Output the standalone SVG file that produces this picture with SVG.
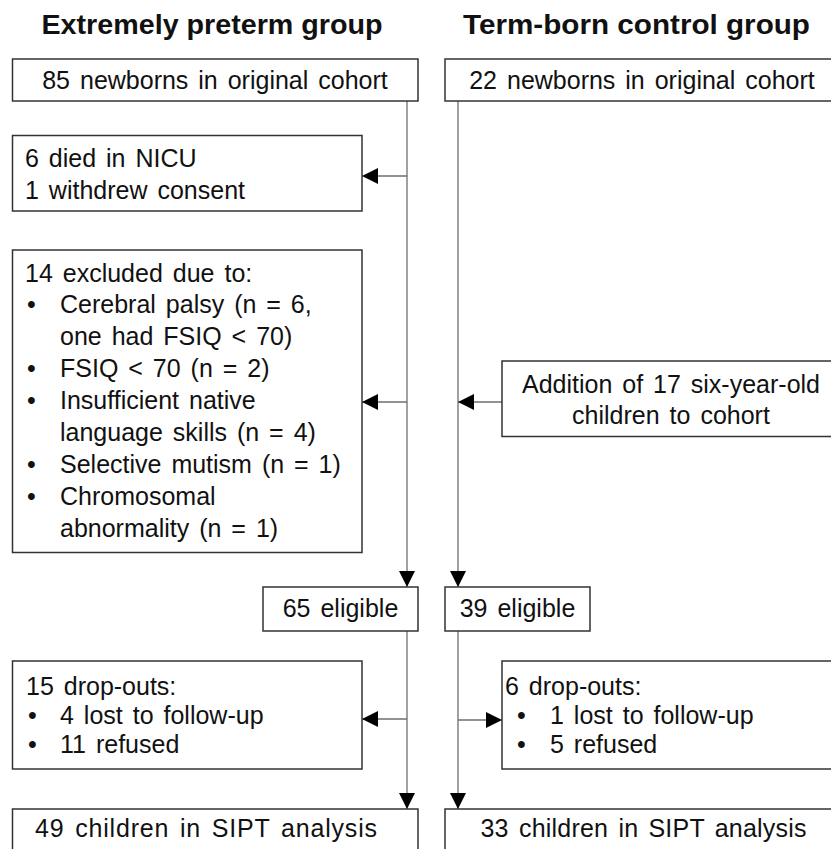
<svg xmlns="http://www.w3.org/2000/svg" width="831" height="849" viewBox="0 0 831 849">
  <style>
    .bg { fill: #ffffff; }
    .box { fill: #ffffff; stroke: #333333; stroke-width: 1.5; }
    .t { font-family: "Liberation Sans", Arial, sans-serif; font-size: 25px; fill: #111111; word-spacing: 3px; }
    .c { text-anchor: middle; }
    .title { font-family: "Liberation Sans", Arial, sans-serif; font-size: 28px; font-weight: bold; fill: #111111; text-anchor: middle; }
    .conn { fill: none; stroke: #6e6e6e; stroke-width: 1.3; }
  </style>
  <defs>
    <marker id="arrow" viewBox="0 0 16 16" refX="16" refY="8" markerWidth="16" markerHeight="16" markerUnits="userSpaceOnUse" orient="auto">
      <path d="M0,0 L16,8 L0,16 z" fill="#000000"/>
    </marker>
  </defs>
  <rect class="bg" x="0" y="0" width="831" height="849"/>

  <g id="titles">
    <text class="title" x="212" y="34" textLength="341" lengthAdjust="spacingAndGlyphs">Extremely preterm group</text>
    <text class="title" x="636.5" y="34" textLength="347" lengthAdjust="spacingAndGlyphs">Term-born control group</text>
  </g>

  <g id="connectors">
    <path class="conn" d="M407,101 V587" marker-end="url(#arrow)"/>
    <path class="conn" d="M407,631 V809" marker-end="url(#arrow)"/>
    <path class="conn" d="M458,101 V587" marker-end="url(#arrow)"/>
    <path class="conn" d="M458,631 V809" marker-end="url(#arrow)"/>
    <path class="conn" d="M407,176 H362" marker-end="url(#arrow)"/>
    <path class="conn" d="M407,402 H362" marker-end="url(#arrow)"/>
    <path class="conn" d="M502,402 H458" marker-end="url(#arrow)"/>
    <path class="conn" d="M407,719 H362" marker-end="url(#arrow)"/>
    <path class="conn" d="M458,720 H502" marker-end="url(#arrow)"/>
  </g>

  <g id="ep-cohort">
    <rect class="box" x="12.5" y="59" width="405.5" height="42"/>
    <text class="t c" x="215" y="89">85 newborns in original cohort</text>
  </g>
  <g id="tb-cohort">
    <rect class="box" x="445" y="59" width="397" height="42"/>
    <text class="t c" x="642" y="89">22 newborns in original cohort</text>
  </g>

  <g id="ep-died">
    <rect class="box" x="12.5" y="135.5" width="349.5" height="75.5"/>
    <text class="t" x="25" y="167">6 died in NICU</text>
    <text class="t" x="25" y="199">1 withdrew consent</text>
  </g>

  <g id="ep-excluded">
    <rect class="box" x="12.5" y="250" width="349.5" height="302.5"/>
    <text class="t" x="25" y="282">14 excluded due to:</text>
    <text class="t" x="27" y="313">•</text>
    <text class="t" x="60" y="313">Cerebral palsy (n = 6,</text>
    <text class="t" x="60" y="345">one had FSIQ &lt; 70)</text>
    <text class="t" x="27" y="377">•</text>
    <text class="t" x="60" y="377">FSIQ &lt; 70 (n = 2)</text>
    <text class="t" x="27" y="409">•</text>
    <text class="t" x="60" y="409">Insufficient native</text>
    <text class="t" x="60" y="441">language skills (n = 4)</text>
    <text class="t" x="27" y="473">•</text>
    <text class="t" x="60" y="473">Selective mutism (n = 1)</text>
    <text class="t" x="27" y="505">•</text>
    <text class="t" x="60" y="505">Chromosomal</text>
    <text class="t" x="60" y="537">abnormality (n = 1)</text>
  </g>

  <g id="tb-addition">
    <rect class="box" x="502" y="361" width="340" height="75.5"/>
    <text class="t c" x="671" y="393">Addition of 17 six-year-old</text>
    <text class="t c" x="671" y="424">children to cohort</text>
  </g>

  <g id="ep-eligible">
    <rect class="box" x="263" y="587" width="155" height="44"/>
    <text class="t c" x="340.5" y="617">65 eligible</text>
  </g>
  <g id="tb-eligible">
    <rect class="box" x="445" y="587" width="145" height="44"/>
    <text class="t c" x="517.5" y="617">39 eligible</text>
  </g>

  <g id="ep-dropouts">
    <rect class="box" x="12.5" y="661" width="349.5" height="108"/>
    <text class="t" x="26" y="695">15 drop-outs:</text>
    <text class="t" x="28" y="724">•</text>
    <text class="t" x="60" y="724">4 lost to follow-up</text>
    <text class="t" x="28" y="753">•</text>
    <text class="t" x="60" y="753">11 refused</text>
  </g>
  <g id="tb-dropouts">
    <rect class="box" x="502" y="661" width="340" height="108"/>
    <text class="t" x="505" y="695">6 drop-outs:</text>
    <text class="t" x="517" y="724">•</text>
    <text class="t" x="550" y="724">1 lost to follow-up</text>
    <text class="t" x="517" y="753">•</text>
    <text class="t" x="550" y="753">5 refused</text>
  </g>

  <g id="ep-analysis">
    <rect class="box" x="12.5" y="809" width="405.5" height="60"/>
    <text class="t c" x="206" y="837" textLength="342">49 children in SIPT analysis</text>
  </g>
  <g id="tb-analysis">
    <rect class="box" x="445" y="809" width="397" height="60"/>
    <text class="t c" x="643.5" y="837" textLength="326">33 children in SIPT analysis</text>
  </g>
</svg>
